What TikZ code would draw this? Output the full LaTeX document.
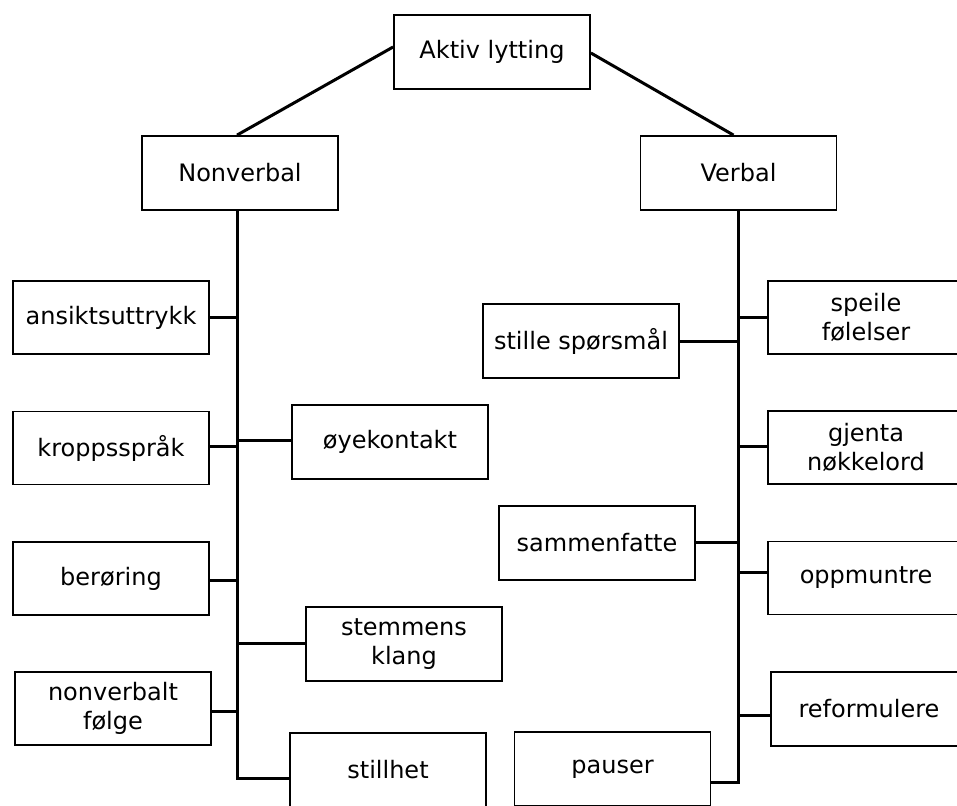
\documentclass[tikz,border=0pt]{standalone}
\usepackage{fontspec}
\setmainfont{DejaVu Sans}
\begin{document}
\begin{tikzpicture}[x=1pt,y=-1pt,
  box/.style={draw=black, line width=1.8pt, fill=white, minimum width=196pt, minimum height=73pt,
    inner sep=2pt, align=center, font=\fontsize{24}{29}\selectfont},
  conn/.style={draw=black, line width=3pt}]
\useasboundingbox (0,0) rectangle (957,805);
\clip (0,0) rectangle (957,805);
\fill[white] (0,0) rectangle (957,805);
% spines
\coordinate (lspine) at (237,0);
\coordinate (rspine) at (738,0);
\coordinate (lend) at (237,778);
\coordinate (rend) at (738,782);
% nodes
\node[box, minimum height=74pt] (aktiv) at (492,52) {Aktiv lytting};
\node[box, minimum height=74pt] (nonverbal) at (240,173) {Nonverbal};
\node[box, minimum height=74pt] (verbal) at (738.5,173) {Verbal};
\node[box] (ansikt) at (111,317.5) {ansiktsuttrykk};
\node[box] (kropp) at (111,448) {kroppsspråk};
\node[box] (beroring) at (111,578.5) {berøring};
\node[box] (nvfolge) at (113,708.5) {nonverbalt\\følge};
\node[box, minimum height=74pt] (oye) at (390,442) {øyekontakt};
\node[box, minimum height=74pt] (stemme) at (404,644) {stemmens\\klang};
\node[box, minimum height=74pt] (stillhet) at (388,770) {stillhet};
\node[box] (speile) at (866,317.5) {speile\\følelser};
\node[box, minimum height=74pt] (stille) at (581,341) {stille spørsmål};
\node[box] (gjenta) at (866,447.5) {gjenta\\nøkkelord};
\node[box, minimum height=74pt] (sammen) at (597,543) {sammenfatte};
\node[box] (oppmuntre) at (866,578) {oppmuntre};
\node[box, minimum height=74pt] (reform) at (869,709) {reformulere};
\node[box, minimum height=74pt] (pauser) at (612.5,769) {pauser};
% top connectors
\draw[conn] ([yshift=5pt]aktiv.west) -- (lspine |- nonverbal.north);
\draw[conn] ([yshift=-1pt]aktiv.east) -- ([xshift=-5pt]verbal.north);
% left tree
\draw[conn] (lspine |- nonverbal.south) -- (lend) -- (lend -| stillhet.west);
\draw[conn] (ansikt.east) -- (ansikt.east -| lspine);
\draw[conn] ([yshift=2pt]kropp.east) -- ([yshift=2pt]kropp.east -| lspine);
\draw[conn] ([yshift=2pt]oye.west) -- ([yshift=2pt]oye.west -| lspine);
\draw[conn] ([yshift=-2pt]beroring.east) -- ([yshift=-2pt]beroring.east -| lspine);
\draw[conn] ([yshift=1pt]stemme.west) -- ([yshift=1pt]stemme.west -| lspine);
\draw[conn] ([yshift=-3pt]nvfolge.east) -- ([yshift=-3pt]nvfolge.east -| lspine);
% right tree
\draw[conn] (rspine |- verbal.south) -- (rend) -- (rend -| pauser.east);
\draw[conn] (speile.west) -- (speile.west -| rspine);
\draw[conn] (stille.east) -- (stille.east -| rspine);
\draw[conn] ([yshift=1pt]gjenta.west) -- ([yshift=1pt]gjenta.west -| rspine);
\draw[conn] ([yshift=1pt]sammen.east) -- ([yshift=1pt]sammen.east -| rspine);
\draw[conn] ([yshift=6pt]oppmuntre.west) -- ([yshift=6pt]oppmuntre.west -| rspine);
\draw[conn] ([yshift=-6pt]reform.west) -- ([yshift=-6pt]reform.west -| rspine);
\end{tikzpicture}
\end{document}
